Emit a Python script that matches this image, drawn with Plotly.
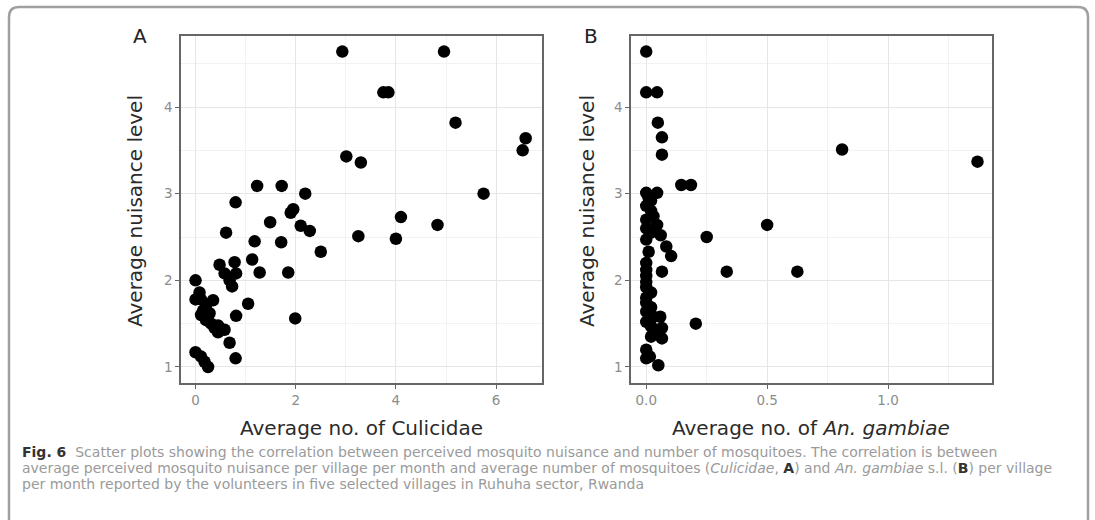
import plotly.graph_objects as go

# Panel A: average no. of Culicidae vs nuisance level
culicidae_x = [2.93, 4.96, 3.75, 3.85, 5.19, 6.59, 6.53, 3.01, 3.30, 1.23, 1.72, 2.19, 5.75,
               0.80, 1.95, 1.90, 4.10, 4.83, 1.49, 2.10, 2.28, 0.61, 3.25, 4.00, 1.18, 1.71,
               2.50, 1.13, 0.48, 0.78, 1.28, 1.85, 0.58, 0.81, 0.68, 0.73, 0.00, 0.08, 0.00,
               0.11, 0.35, 0.21, 1.05, 0.11, 0.21, 0.31, 0.45, 0.58, 0.45, 0.68, 0.81, 1.99,
               0.00, 0.11, 0.18, 0.25, 0.80, 0.15, 0.28, 0.38]
culicidae_y = [4.64, 4.64, 4.17, 4.17, 3.82, 3.64, 3.50, 3.43, 3.36, 3.09, 3.09, 3.00, 3.00,
               2.90, 2.82, 2.78, 2.73, 2.64, 2.67, 2.63, 2.57, 2.55, 2.51, 2.48, 2.45, 2.44,
               2.33, 2.24, 2.18, 2.21, 2.09, 2.09, 2.08, 2.08, 2.00, 1.93, 2.00, 1.86, 1.78,
               1.78, 1.77, 1.71, 1.73, 1.60, 1.54, 1.50, 1.48, 1.43, 1.40, 1.28, 1.59, 1.56,
               1.17, 1.12, 1.06, 1.00, 1.10, 1.65, 1.62, 1.45]

# Panel B: average no. of An. gambiae vs nuisance level
gambiae_x = [0.00, 0.00, 0.045, 0.048, 0.065, 0.065, 0.81, 1.37, 0.145, 0.185, 0.00, 0.045,
             0.02, 0.00, 0.02, 0.03, 0.00, 0.045, 0.00, 0.02, 0.06, 0.00, 0.083, 0.103,
             0.50, 0.25, 0.333, 0.625, 0.065, 0.00, 0.00, 0.00, 0.00, 0.00, 0.02, 0.00,
             0.00, 0.02, 0.00, 0.03, 0.058, 0.00, 0.02, 0.065, 0.03, 0.065, 0.02, 0.205,
             0.00, 0.015, 0.05, 0.00, 0.01, 0.01, 0.01]
gambiae_y = [4.64, 4.17, 4.17, 3.82, 3.65, 3.45, 3.51, 3.37, 3.10, 3.10, 3.01, 3.01,
             2.92, 2.86, 2.80, 2.74, 2.70, 2.64, 2.60, 2.55, 2.52, 2.47, 2.39, 2.28,
             2.64, 2.50, 2.10, 2.10, 2.10, 2.20, 2.12, 2.05, 1.98, 1.92, 1.86, 1.80,
             1.74, 1.69, 1.64, 1.58, 1.58, 1.52, 1.47, 1.45, 1.40, 1.33, 1.35, 1.50,
             1.20, 1.12, 1.02, 1.10, 2.95, 2.33, 1.56]

y_ticks = [1, 2, 3, 4]
a_x_ticks = [0, 2, 4, 6]
b_x_ticks = [0.0, 0.5, 1.0]

DARK = "<span style='color:#333333'><b>{}</b></span>"
caption_lines = [
    DARK.format("Fig. 6") + "  Scatter plots showing the correlation between perceived mosquito nuisance and number of mosquitoes. The correlation is between",
    "average perceived mosquito nuisance per village per month and average number of mosquitoes (<i>Culicidae</i>, " + DARK.format("A") + ") and <i>An. gambiae</i> s.l. (" + DARK.format("B") + ") per village",
    "per month reported by the volunteers in five selected villages in Ruhuha sector, Rwanda",
]

W, H = 1095, 520
fig = go.Figure()
marker = dict(color="black", size=12.5, line=dict(width=0))
fig.add_trace(go.Scatter(x=culicidae_x, y=culicidae_y, mode="markers", marker=marker,
                         xaxis="x", yaxis="y", showlegend=False))
fig.add_trace(go.Scatter(x=gambiae_x, y=gambiae_y, mode="markers", marker=marker,
                         xaxis="x2", yaxis="y2", showlegend=False))

font_family = "DejaVu Sans, sans-serif"
common = dict(showline=True, mirror=True, linecolor="#666666", linewidth=1.6,
              gridcolor="#e6e6e6", gridwidth=1, zeroline=False,
              ticks="outside", ticklen=4, tickcolor="#666666", tickwidth=1,
              tickfont=dict(size=13.5, color="#8c8c8c", family=font_family),
              automargin=False)
minor_style = dict(showgrid=True, gridcolor="#f2f2f2", gridwidth=0.6, ticks="")

ydom = [1 - 383 / H, 1 - 36 / H]
fig.update_layout(
    width=W, height=H,
    margin=dict(l=0, r=0, t=0, b=0),
    paper_bgcolor="white", plot_bgcolor="white",
    xaxis=dict(domain=[181 / W, 541.7 / W], range=[-0.29, 6.91], tickvals=a_x_ticks,
               minor=dict(dtick=1, tick0=0, **minor_style), anchor="y", **common),
    yaxis=dict(domain=ydom, range=[0.815, 4.82], tickvals=y_ticks,
               minor=dict(dtick=0.5, tick0=0, **minor_style), anchor="x", **common),
    xaxis2=dict(domain=[631 / W, 992 / W], range=[-0.063, 1.43], tickvals=b_x_ticks,
                tickformat=".1f", minor=dict(dtick=0.25, tick0=0, **minor_style),
                anchor="y2", **common),
    yaxis2=dict(domain=ydom, range=[0.815, 4.82], tickvals=y_ticks,
                minor=dict(dtick=0.5, tick0=0, **minor_style), anchor="x2", **common),
)

title_font = dict(size=20, color="#2b2b2b", family=font_family)


def note(px, py, text, font, angle=0, xanchor="center"):
    return dict(x=px / W, y=1 - py / H, text=text, textangle=angle, showarrow=False,
                xref="paper", yref="paper", xanchor=xanchor, yanchor="middle", font=font)


ann = [
    note(140, 36, "A", dict(size=20, color="#222222", family=font_family)),
    note(591, 36, "B", dict(size=20, color="#222222", family=font_family)),
    note(135, 211, "Average nuisance level", title_font, angle=-90),
    note(587, 211, "Average nuisance level", title_font, angle=-90),
    note(361, 428, "Average no. of Culicidae", title_font),
    note(811, 428, "Average no. of <i>An. gambiae</i>", title_font),
]
cap_font = dict(size=14, color="#9a9a9a", family=font_family)
for i, line in enumerate(caption_lines):
    ann.append(note(20, 452 + 16 * i, line, cap_font, xanchor="left"))
fig.update_layout(annotations=ann)

# outer journal frame (rounded, open at bottom)
x0, x1, y0 = 9 / W, 1088 / W, 1 - 7 / H
rx, ry = 10 / W, 10 / H
path = (f"M {x0},0 L {x0},{y0 - ry} Q {x0},{y0} {x0 + rx},{y0} "
        f"L {x1 - rx},{y0} Q {x1},{y0} {x1},{y0 - ry} L {x1},0")
fig.add_shape(type="path", path=path, xref="paper", yref="paper",
              line=dict(color="#a0a0a0", width=2.5))

fig.write_html("out.html", config={"displayModeBar": False},
               post_script="document.body.style.margin='0';document.body.style.overflow='hidden';")
